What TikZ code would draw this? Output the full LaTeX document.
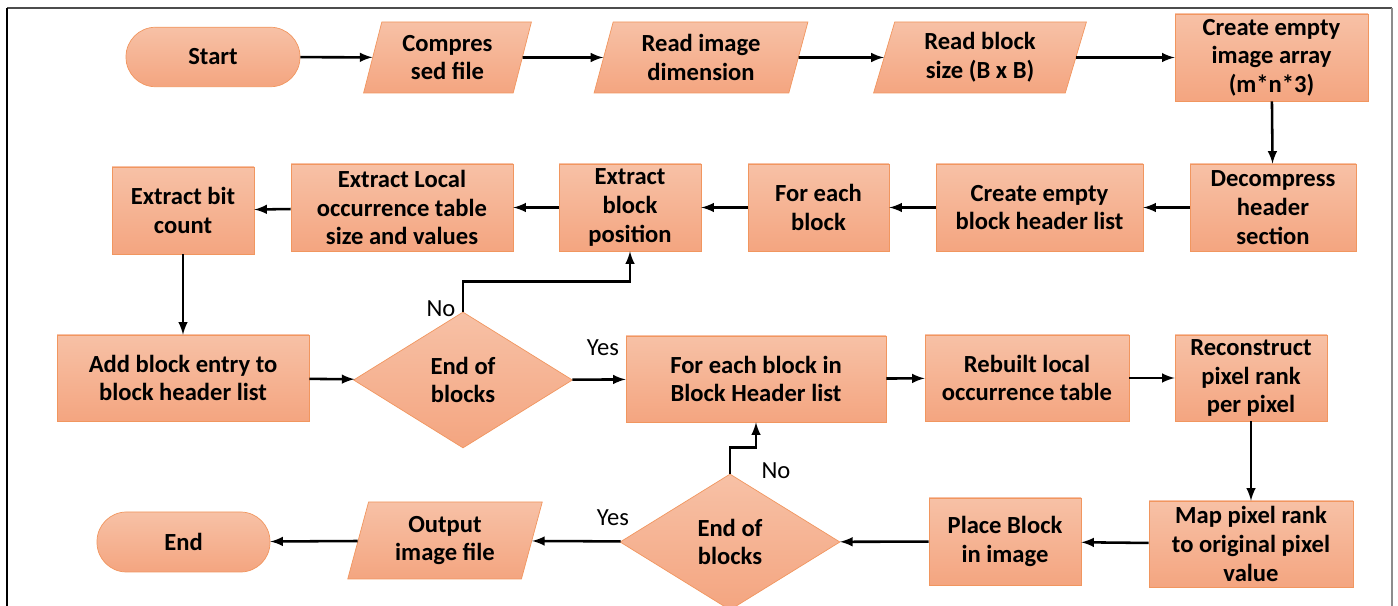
\documentclass[tikz,border=0pt]{standalone}
\usepackage{fontspec}
\setmainfont{Carlito}
\usepackage{tikz}
\usetikzlibrary{shapes,arrows,positioning,calc}
\definecolor{flow-top}{RGB}{247,193,166}
\definecolor{flow-bot}{RGB}{244,165,128}
\definecolor{flow-line}{RGB}{241,150,95}

\begin{document}
\begin{tikzpicture}[every node/.style={font=\bfseries\fontsize{14}{16.3}\selectfont, align=center},
  procbox/.style={rectangle, draw=flow-line, top color=flow-top, bottom color=flow-bot, inner sep=1pt, minimum height=1.74cm},
  iobox/.style={trapezium, trapezium left angle=75, trapezium right angle=105, trapezium stretches=true,
    draw=flow-line, top color=flow-top, bottom color=flow-bot, inner sep=1pt},
  termbox/.style={rectangle, rounded corners=0.59cm, draw=flow-line, top color=flow-top, bottom color=flow-bot, minimum height=1.19cm},
  decbox/.style={diamond, draw=flow-line, top color=flow-top, bottom color=flow-bot, inner sep=0pt, minimum width=4.4cm, minimum height=2.72cm},
  lbl/.style={font=\fontsize{14}{16.3}\selectfont},
  flow/.style={-latex, line width=1.45pt}]
  \useasboundingbox (0,0) rectangle (27.96,12.12);

  % frame
  \draw[line width=0.8pt, black!70] (0.14,11.96) -- (27.84,11.96);
  \draw[line width=0.8pt, black] (0.14,11.96) -- (0.14,0);
  \draw[line width=0.8pt, black!45] (27.84,11.96) -- (27.84,0);

  % Row 1
  \node[termbox, minimum width=3.48cm] (start) at (4.26,10.98) {Start};
  \node[iobox, minimum width=3.38cm, minimum height=1.42cm] (comp) at (8.95,10.97) {Compres\\sed file};
  \node[iobox, minimum width=4.28cm, minimum height=1.42cm] (readdim) at (14.02,10.97) {Read image\\dimension};
  \node[iobox, minimum width=4.28cm, minimum height=1.42cm] (readblk) at (19.6,10.97) {Read block\\size (B x B)};
  \node[procbox, minimum width=3.86cm] (imgarr) at (25.43,10.97) {Create empty\\image array\\(m*n*3)};

  % Row 2
  \node[procbox, minimum width=3.32cm] (decomp) at (25.46,7.97) {Decompress\\header\\section};
  \node[procbox, minimum width=4.14cm] (hdrlist) at (20.79,7.97) {Create empty\\block header list};
  \node[procbox, minimum width=2.82cm] (foreach) at (16.37,7.97) {For each\\block};
  \node[procbox, minimum width=2.84cm] (blkpos) at (12.6,7.97) {Extract\\block\\position};
  \node[procbox, minimum width=4.44cm] (localtab) at (8.04,7.97) {Extract Local\\occurrence table\\size and values};
  \node[procbox, minimum width=2.84cm] (bitcnt) at (3.66,7.91) {Extract bit\\count};

  % Row 3
  \node[procbox, minimum width=5.04cm, minimum height=1.72cm] (addblk) at (3.66,4.56) {Add block entry to\\block header list};
  \node[decbox, minimum width=4.38cm] (dec1) at (9.26,4.52) {End of\\blocks};
  \node[procbox, minimum width=5.2cm, minimum height=1.72cm] (forlist) at (15.12,4.54) {For each block in\\Block Header list};
  \node[procbox, minimum width=4.08cm, minimum height=1.72cm] (rebuilt) at (20.54,4.56) {Rebuilt local\\occurrence table};
  \node[procbox, minimum width=3.04cm, minimum height=1.72cm] (recon) at (25.02,4.56) {Reconstruct\\pixel rank\\per pixel};

  % Row 4
  \node[procbox, minimum width=4.08cm, minimum height=1.72cm] (mapval) at (25.02,1.24) {Map pixel rank\\to original pixel\\value};
  \node[procbox, minimum width=3.04cm] (place) at (20.1,1.29) {Place Block\\in image};
  \node[decbox] (dec2) at (14.6,1.28) {End of\\blocks};
  \node[iobox, minimum width=3.92cm, minimum height=1.54cm] (output) at (8.9,1.31) {Output\\image file};
  \node[termbox, minimum width=3.46cm, minimum height=1.2cm] (end) at (3.67,1.28) {End};

  % branch labels
  \node[lbl] (no1) at (8.82,5.94) {No};
  \node[lbl] (yes1) at (12.06,5.16) {Yes};
  \node[lbl] (no2) at (15.52,2.7) {No};
  \node[lbl] (yes2) at (12.26,1.76) {Yes};

  % connectors
  \draw[flow] (start) -- (comp);
  \draw[flow] (comp) -- (readdim);
  \draw[flow] (readdim) -- (readblk);
  \draw[flow] (readblk) -- (imgarr);
  \draw[flow] (imgarr) -- (decomp);
  \draw[flow] (decomp) -- (hdrlist);
  \draw[flow] (hdrlist) -- (foreach);
  \draw[flow] (foreach) -- (blkpos);
  \draw[flow] (blkpos) -- (localtab);
  \draw[flow] (localtab) -- (bitcnt);
  \draw[flow] (bitcnt) -- (addblk);
  \draw[flow] (addblk) -- (dec1);
  \draw[flow] (dec1) -- (forlist);
  \draw[flow] (dec1.north) -- ++(0,0.6) -| (blkpos.south);
  \draw[flow] (forlist) -- (rebuilt);
  \draw[flow] (rebuilt) -- (recon);
  \draw[flow] (recon) -- (mapval);
  \draw[flow] (mapval) -- (place);
  \draw[flow] (place) -- (dec2);
  \draw[flow] (dec2) -- (output);
  \draw[flow] (output) -- (end);
  \draw[flow] (dec2.north) -- ++(0,0.52) -| (forlist.south);
\end{tikzpicture}
\end{document}
